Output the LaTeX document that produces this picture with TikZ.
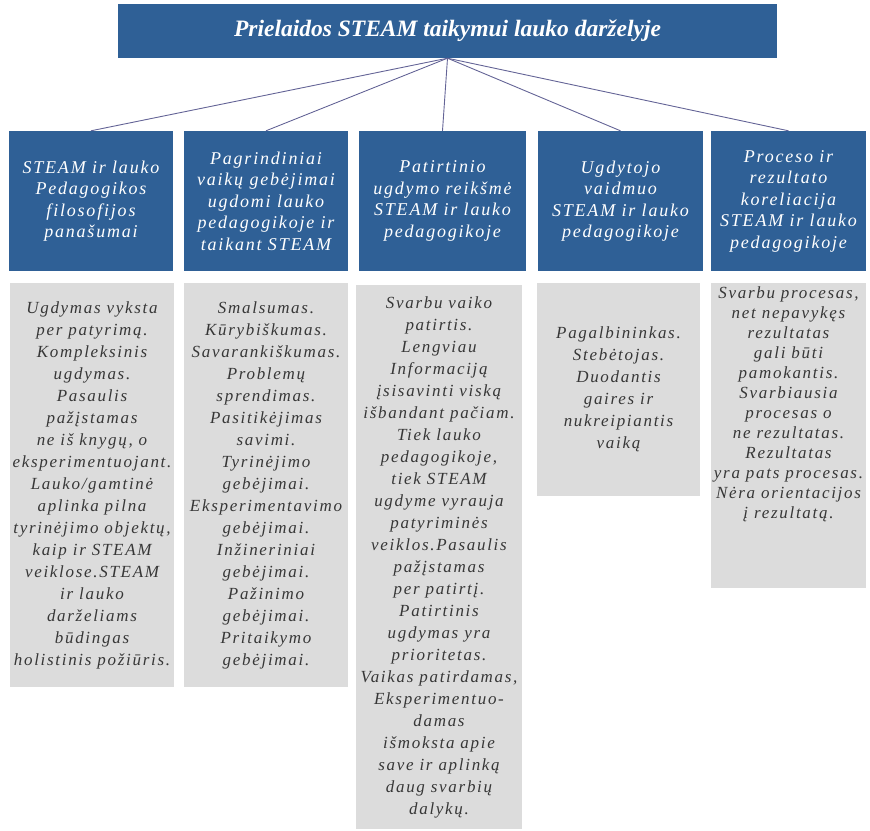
\documentclass[tikz,border=0pt]{standalone}
\usepackage{fontspec}
\setmainfont{Liberation Serif}
\newfontfamily\spacedfont[LetterSpace=10]{Liberation Serif}
\usetikzlibrary{positioning}

\definecolor{steelblue}{RGB}{47,96,150}
\definecolor{bodygray}{RGB}{220,220,220}
\definecolor{bodytext}{RGB}{55,55,55}
\definecolor{linkcol}{RGB}{100,100,150}

\tikzset{
    titlebox/.style={fill=steelblue, text=white, minimum width=659pt, minimum height=54pt,
        inner sep=0pt, font=\bfseries\itshape\fontsize{23.5}{27}\selectfont},
    headbox/.style={fill=steelblue, text=white, align=center, minimum height=140pt,
        inner sep=0pt, font=\spacedfont\itshape\fontsize{18}{21.5}\selectfont},
    bodybox/.style={fill=bodygray, text=bodytext, align=center, anchor=north,
        inner sep=0pt, font=\spacedfont\itshape\fontsize{17}{22}\selectfont},
    link/.style={draw=linkcol, line width=0.9pt}
}

\begin{document}
\begin{tikzpicture}[x=1pt,y=-1pt]
    \useasboundingbox (0,0) rectangle (870,830);

    % top
    \node[titlebox] (title) at (447.5,31) {Prielaidos STEAM taikymui lauko darželyje};

    % headers
    \node[headbox, minimum width=164pt] (head1) at (91,201)
        {STEAM ir lauko\\Pedagogikos\\filosofijos\\panašumai};
    \node[headbox, minimum width=164pt] (head2) at (266,201)
        {Pagrindiniai\\vaikų gebėjimai\\ugdomi lauko\\pedagogikoje ir\\taikant STEAM};
    \node[headbox, minimum width=167pt] (head3) at (442.5,201)
        {Patirtinio\\ugdymo reikšmė\\STEAM ir lauko\\pedagogikoje};
    \node[headbox, minimum width=165pt] (head4) at (620.5,201)
        {Ugdytojo\\vaidmuo\\STEAM ir lauko\\pedagogikoje};
    \node[headbox, minimum width=155pt] (head5) at (788.5,201)
        {Proceso ir\\rezultato\\koreliacija\\STEAM ir lauko\\pedagogikoje};

    \foreach \i in {1,...,5}
        \draw[link] (title.south) -- (head\i.north);

    % grey columns
    \node[bodybox, minimum width=164pt, minimum height=404pt] (body1) at (92,283)
        {Ugdymas vyksta\\per patyrimą.\\Kompleksinis\\ugdymas.\\Pasaulis\\pažįstamas\\
         ne iš knygų, o\\eksperimentuojant.\\Lauko/gamtinė\\aplinka pilna\\
         tyrinėjimo objektų,\\kaip ir STEAM\\veiklose.STEAM\\ir lauko\\darželiams\\
         būdingas\\holistinis požiūris.};
    \node[bodybox, minimum width=164pt, minimum height=404pt] (body2) at (266,283)
        {Smalsumas.\\Kūrybiškumas.\\Savarankiškumas.\\Problemų\\sprendimas.\\
         Pasitikėjimas\\savimi.\\Tyrinėjimo\\gebėjimai.\\Eksperimentavimo\\gebėjimai.\\
         Inžineriniai\\gebėjimai.\\Pažinimo\\gebėjimai.\\Pritaikymo\\gebėjimai.};
    \node[bodybox, minimum width=166pt, minimum height=544pt] (body3) at (439,285)
        {Svarbu vaiko\\patirtis.\\Lengviau\\Informaciją\\įsisavinti viską\\
         išbandant pačiam.\\Tiek lauko\\pedagogikoje,\\tiek STEAM\\ugdyme vyrauja\\
         patyriminės\\veiklos.Pasaulis\\pažįstamas\\per patirtį.\\Patirtinis\\
         ugdymas yra\\prioritetas.\\Vaikas patirdamas,\\Eksperimentuo-\\damas\\
         išmoksta apie\\save ir aplinką\\daug svarbių\\dalykų.};
    \node[bodybox, minimum width=163pt, minimum height=213pt] (body4) at (618.5,283)
        {Pagalbininkas.\\Stebėtojas.\\Duodantis\\gaires ir\\nukreipiantis\\vaiką};
    \node[bodybox, minimum width=155pt] (body5) at (788.5,283)
        {\parbox[c][305pt][t]{155pt}{\centering\baselineskip=20pt
         \vspace*{3pt}Svarbu procesas,\\net nepavykęs\\rezultatas\\gali būti\\pamokantis.\\
         Svarbiausia\\procesas o\\ne rezultatas.\\Rezultatas\\yra pats procesas.\\
         Nėra orientacijos\\į rezultatą.}};
\end{tikzpicture}
\end{document}
